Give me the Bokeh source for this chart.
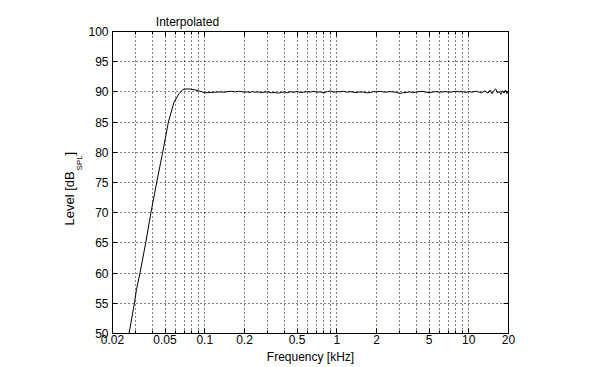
import math
from bokeh.plotting import figure
from bokeh.models import (FixedTicker, LogAxis, LinearAxis, Label, Range1d)
from bokeh.embed import file_html
from bokeh.resources import INLINE

# ---- data ----
freq_khz = [0.0267, 0.0293, 0.0304, 0.0323, 0.0357, 0.0391, 0.0432, 0.0480, 0.0530,
            0.0585, 0.0638, 0.0683, 0.0733, 0.0785, 0.0857, 0.0922, 0.1004,
            0.11, 0.12, 0.13, 0.14, 0.15, 0.16, 0.17, 0.18, 0.19, 0.2,
            0.21, 0.22, 0.23, 0.24, 0.25, 0.27, 0.28, 0.3, 0.32, 0.34,
            0.36, 0.38, 0.4, 0.42, 0.45, 0.47, 0.5, 0.53, 0.56, 0.6,
            0.63, 0.67, 0.71, 0.75, 0.8, 0.85, 0.9, 0.95, 1.0, 1.06,
            1.12, 1.2, 1.26, 1.33, 1.4, 1.5, 1.6, 1.7, 1.8, 1.9,
            2.0, 2.12, 2.24, 2.37, 2.5, 2.66, 2.8, 3.0, 3.15, 3.35,
            3.55, 3.75, 4.0, 4.2, 4.5, 4.7, 5.0, 5.3, 5.6, 6.0,
            6.3, 6.7, 7.1, 7.5, 8.0, 8.5, 9.0, 9.5, 10.0, 10.6,
            11.2, 11.8, 12.5, 13.2, 14.0, 14.5, 15.0, 15.5, 16.0, 16.5,
            17.0, 17.5, 18.0, 18.5, 19.0, 19.5, 20.0]
level_db = [50.0, 55.0, 57.3, 60.0, 65.0, 70.0, 75.0, 80.0, 85.0,
            88.3, 89.7, 90.4, 90.5, 90.45, 90.3, 90.1, 89.85,
            89.9, 89.95, 90.0, 89.95, 90.05, 90.1, 90.0, 90.1, 90.05, 89.95,
            90.0, 89.9, 90.05, 89.95, 90.0, 89.9, 89.95, 90.0, 89.85, 89.9,
            89.8, 89.9, 90.0, 89.85, 90.05, 89.9, 90.1, 89.9, 89.95, 90.05,
            89.95, 90.1, 89.95, 90.0, 89.85, 90.05, 90.15, 89.95, 90.05, 90.0,
            90.1, 89.95, 90.05, 89.95, 89.9, 90.0, 89.95, 89.85, 89.9, 90.05,
            90.0, 90.1, 90.0, 89.95, 90.05, 90.0, 89.95, 89.75, 89.85, 89.9,
            90.0, 89.9, 89.95, 90.05, 90.1, 89.95, 89.9, 89.95, 90.05, 89.95,
            90.0, 90.05, 89.95, 90.0, 90.1, 90.0, 90.05, 89.9, 90.05, 89.95,
            90.1, 90.0, 89.85, 90.15, 89.8, 90.3, 89.7, 90.2, 90.5, 89.8,
            90.1, 89.6, 90.2, 89.8, 90.3, 89.7, 90.1]

x_tick_labels = [0.02, 0.05, 0.1, 0.2, 0.5, 1, 2, 5, 10, 20]
x_grid = [0.02, 0.03, 0.04, 0.05, 0.06, 0.07, 0.08, 0.09,
          0.1, 0.2, 0.3, 0.4, 0.5, 0.6, 0.7, 0.8, 0.9,
          1, 2, 3, 4, 5, 6, 7, 8, 9, 10, 20]
y_ticks = [50, 55, 60, 65, 70, 75, 80, 85, 90, 95, 100]
x_label_text = {0.02: "0.02", 0.05: "0.05", 0.1: "0.1", 0.2: "0.2", 0.5: "0.5",
                1: "1", 2: "2", 5: "5", 10: "10", 20: "20"}

FONT = "Liberation Sans"

p = figure(width=600, height=367, x_axis_type="log",
           x_range=Range1d(0.02, 20), y_range=Range1d(50, 100),
           output_backend="svg", toolbar_location=None,
           min_border_left=112, min_border_right=92,
           min_border_top=31, min_border_bottom=34,
           x_axis_location=None, y_axis_location=None)
p.background_fill_color = "white"
p.border_fill_color = "white"
p.outline_line_color = "black"
p.outline_line_width = 1

xt = FixedTicker(ticks=x_tick_labels, minor_ticks=[v for v in x_grid if v not in x_tick_labels])
yt = FixedTicker(ticks=y_ticks, minor_ticks=[])


def style_axis(ax, show_labels):
    ax.axis_line_color = "black"
    ax.major_tick_in = 5
    ax.major_tick_out = 0
    ax.minor_tick_in = 3
    ax.minor_tick_out = 0
    ax.major_tick_line_color = "black"
    ax.minor_tick_line_color = "black"
    ax.major_label_text_font = FONT
    if show_labels:
        ax.major_label_text_font_size = "12px"
        ax.major_label_text_color = "black"
    else:
        ax.major_label_text_font_size = "0px"
        ax.major_label_text_color = None
    ax.major_label_standoff = 1


bottom = LogAxis(ticker=xt)
bottom.major_label_overrides = {k: v for k, v in x_label_text.items()}
style_axis(bottom, True)
bottom.axis_label = "Frequency [kHz]"
bottom.axis_label_text_font = FONT
bottom.axis_label_text_font_size = "12px"
bottom.axis_label_text_font_style = "normal"
bottom.axis_label_text_color = "black"
bottom.axis_label_standoff = 3
top = LogAxis(ticker=xt)
style_axis(top, False)
top.major_label_standoff = 0
left = LinearAxis(ticker=yt)
style_axis(left, True)
left.major_label_standoff = 4
right = LinearAxis(ticker=yt)
style_axis(right, False)
right.major_label_standoff = 0

p.add_layout(bottom, "below")
p.add_layout(top, "above")
p.add_layout(left, "left")
p.add_layout(right, "right")

p.xgrid.ticker = xt
p.ygrid.ticker = yt
for g in (p.xgrid, p.ygrid):
    g.grid_line_color = "black"
    g.grid_line_dash = "1 3"
    g.grid_line_width = 1
p.xgrid.minor_grid_line_color = "black"
p.xgrid.minor_grid_line_dash = "1 3"

p.line(freq_khz, level_db, line_color="black", line_width=1)

# title and y label (placed in the side panels so they are not clipped)
p.add_layout(Label(x=0.02, y=100, x_offset=75, y_offset=10, text="Interpolated",
                   text_align="center", text_baseline="alphabetic",
                   text_font=FONT, text_font_size="12px", text_color="black"), "above")
p.add_layout(Label(x=0.02, y=75, x_offset=-43, y_offset=-43, text="Level [dB",
                   angle=math.pi / 2, text_align="left", text_baseline="alphabetic",
                   text_font=FONT, text_font_size="13px", text_color="black"), "left")
p.add_layout(Label(x=0.02, y=75, x_offset=-33, y_offset=12, text="SPL",
                   angle=math.pi / 2, text_align="left", text_baseline="alphabetic",
                   text_font=FONT, text_font_size="8px", text_color="black"), "left")
p.add_layout(Label(x=0.02, y=75, x_offset=-43, y_offset=27, text="]",
                   angle=math.pi / 2, text_align="left", text_baseline="alphabetic",
                   text_font=FONT, text_font_size="13px", text_color="black"), "left")

open("out.html", "w").write(file_html(p, INLINE))
